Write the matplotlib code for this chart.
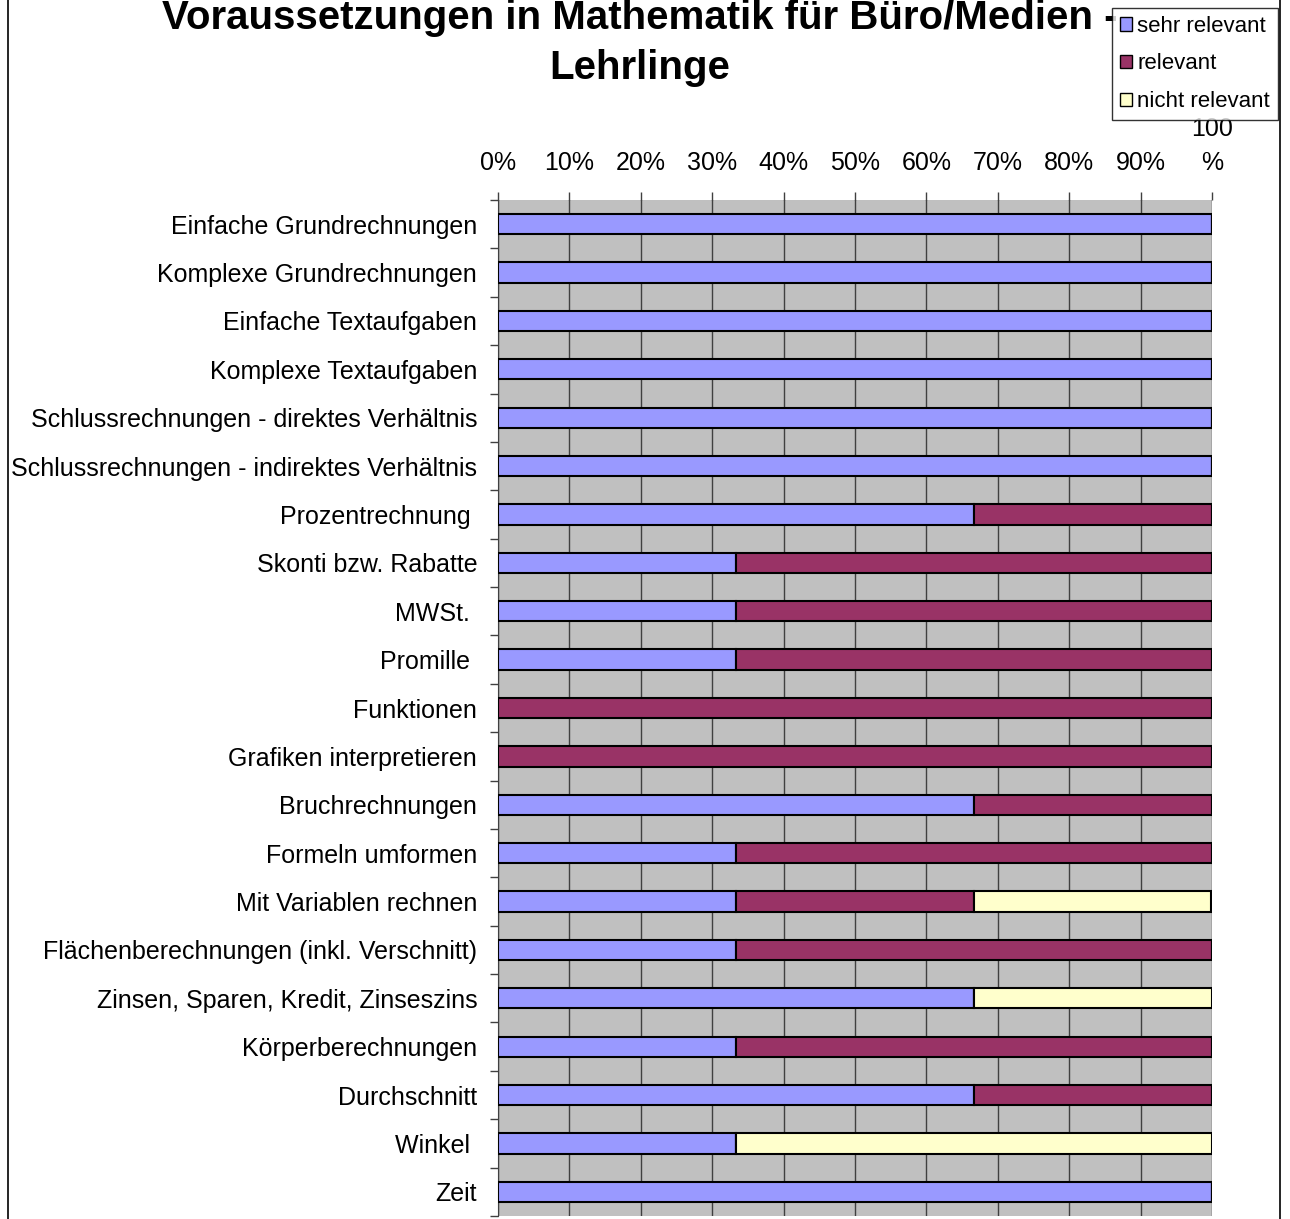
import matplotlib.pyplot as plt
from matplotlib.patches import Patch
from matplotlib.lines import Line2D
import numpy as np

plt.rcParams['font.family'] = ['Liberation Sans', 'DejaVu Sans']

# Daten (Anteile in %)
kategorien = [
    "Einfache Grundrechnungen",
    "Komplexe Grundrechnungen",
    "Einfache Textaufgaben",
    "Komplexe Textaufgaben",
    "Schlussrechnungen - direktes Verhältnis",
    "Schlussrechnungen - indirektes Verhältnis",
    "Prozentrechnung ",
    "Skonti bzw. Rabatte",
    "MWSt. ",
    "Promille ",
    "Funktionen",
    "Grafiken interpretieren",
    "Bruchrechnungen",
    "Formeln umformen",
    "Mit Variablen rechnen",
    "Flächenberechnungen (inkl. Verschnitt)",
    "Zinsen, Sparen, Kredit, Zinseszins",
    "Körperberechnungen",
    "Durchschnitt",
    "Winkel ",
    "Zeit",
]
sehr_relevant = [100, 100, 100, 100, 100, 100, 66.7, 33.3, 33.3, 33.3, 0, 0,
                 66.7, 33.3, 33.3, 33.3, 66.7, 33.3, 66.7, 33.3, 100]
relevant = [0, 0, 0, 0, 0, 0, 33.3, 66.7, 66.7, 66.7, 100, 100,
            33.3, 66.7, 33.3, 66.7, 0, 66.7, 33.3, 0, 0]
nicht_relevant = [0, 0, 0, 0, 0, 0, 0, 0, 0, 0, 0, 0,
                  0, 0, 33.3, 0, 33.3, 0, 0, 66.7, 0]
serien = ["sehr relevant", "relevant", "nicht relevant"]
farben = ["#9999FF", "#993366", "#FFFFCC"]
xticklabels = ["0%", "10%", "20%", "30%", "40%", "50%", "60%", "70%", "80%", "90%", "100\n%"]

W, H = 1290, 1219
fig = plt.figure(figsize=(W / 100, H / 100), dpi=100)
ax = fig.add_axes([498 / W, 1 - 1216 / H, (1212 - 498) / W, (1216 - 200) / H])
ax.set_facecolor("#C0C0C0")

y = np.arange(len(kategorien))
links = np.zeros(len(kategorien))
for werte, farbe in zip([sehr_relevant, relevant, nicht_relevant], farben):
    werte = np.array(werte)
    ax.barh(y, werte, left=links, height=0.42, color=farbe,
            edgecolor="black", linewidth=1.5, zorder=3)
    links += werte

ax.set_xlim(0, 100)
ax.set_ylim(len(kategorien) - 0.5, -0.5)
ax.xaxis.tick_top()
ax.set_xticks(np.arange(0, 101, 10))
ax.set_xticklabels(xticklabels, fontsize=18, linespacing=1.5)
ax.tick_params(axis="x", length=6, width=1, color="#404040", pad=12)
ax.grid(axis="x", color="#404040", linewidth=1, zorder=1)

ax.set_yticks(y)
ax.set_yticklabels(kategorien, fontsize=18)
ax.set_yticks(np.arange(-0.5, len(kategorien), 1), minor=True)
ax.tick_params(axis="y", which="major", length=0, pad=15)
ax.tick_params(axis="y", which="minor", length=6, width=1, color="#404040")

for s in ["top", "right", "bottom"]:
    ax.spines[s].set_visible(False)
ax.spines["left"].set_color("#404040")

# Titel (oben wie im Original angeschnitten)
fig.text(640 / W, 1 - 43 / H,
         "Voraussetzungen in Mathematik für Büro/Medien -\nLehrlinge",
         ha="center", va="center", fontsize=29, fontweight="bold", linespacing=1.4)

# Rahmen links/rechts
fig.add_artist(Line2D([8 / W, 8 / W], [0, 1], color="black", linewidth=1.2))
fig.add_artist(Line2D([1280 / W, 1280 / W], [0, 1], color="black", linewidth=1.2))

handles = [Patch(facecolor=f, edgecolor="black", linewidth=1) for f in farben]
leg = fig.legend(handles, serien, loc="upper right",
                 bbox_to_anchor=(1278 / W, 1 - 8 / H), fontsize=16,
                 frameon=True, fancybox=False, handlelength=0.55, handleheight=0.55,
                 handletextpad=0.25, labelspacing=0.75, borderpad=0.35, borderaxespad=0)
leg.get_frame().set_edgecolor("black")
leg.get_frame().set_linewidth(1)
leg.set_zorder(10)

fig.savefig("out.png", dpi=100)
